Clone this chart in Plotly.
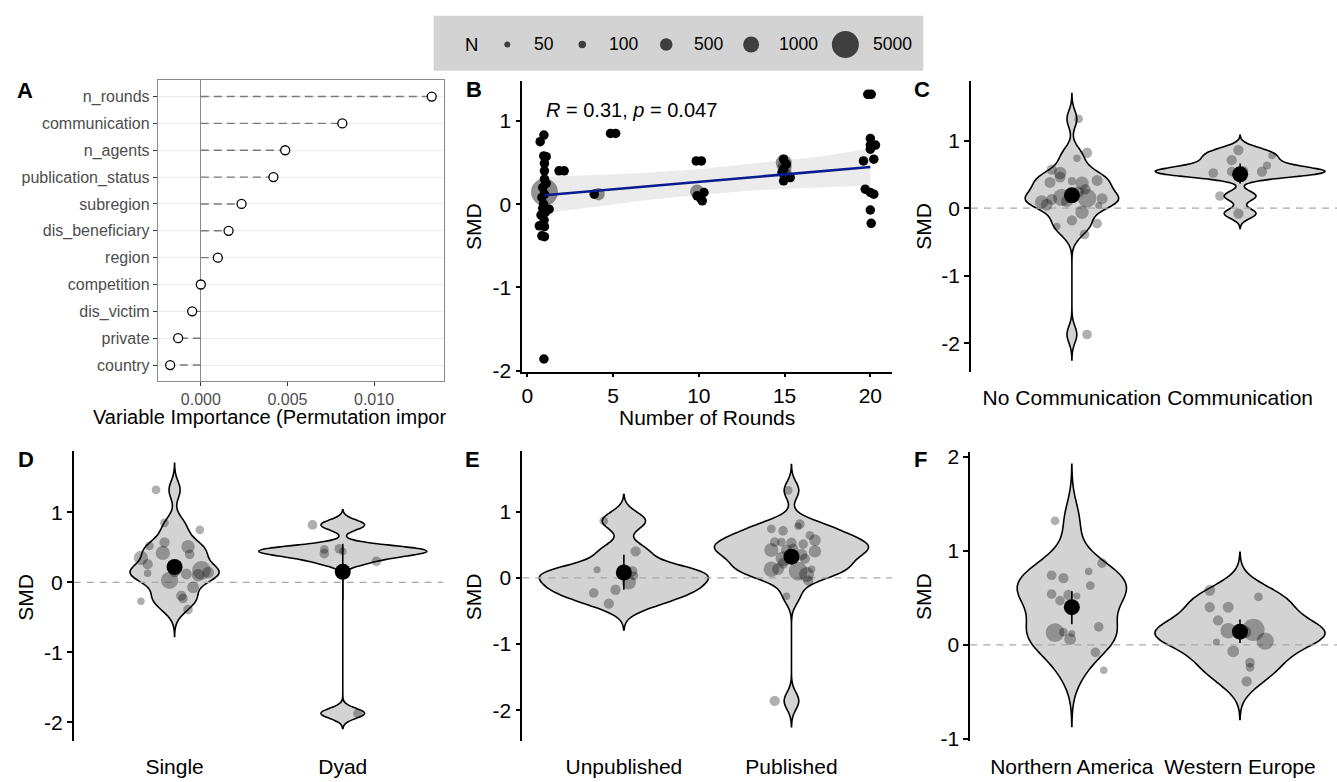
import numpy as np
import plotly.graph_objects as go

W, H = 1337, 782
FONT = "Liberation Sans, Arial, sans-serif"


def fx(p):
    return p / W


def fy(p):
    return 1 - p / H


# ------------------------------------------------------------------ data
# Panel A: permutation importance
imp_vars = ["n_rounds", "communication", "n_agents", "publication_status", "subregion",
            "dis_beneficiary", "region", "competition", "dis_victim", "private", "country"]
imp_vals = [0.01333, 0.00817, 0.00487, 0.00419, 0.00235, 0.00160, 0.00098, 0.00000,
            -0.00050, -0.00131, -0.00177]

# Panel B: SMD vs number of rounds (jittered positions as drawn)
b_x = [0.97, 0.75, 0.96, 1.1, 1.0, 1.0, 1.85, 2.15, 0.9, 1.0, 0.85, 1.1, 0.95, 1.27, 0.8,
       0.98, 0.7, 1.0, 0.85, 1.0, 0.97, 1.0, 0.9, 1.05,
       3.9, 4.85, 5.15, 9.85, 10.15, 10.3, 10.1, 10.2, 9.9,
       14.94, 15.1, 14.94, 14.85, 15.33, 14.94,
       19.85, 20.05, 20.0, 20.0, 20.3, 20.0, 20.2, 19.6, 19.7, 20.0, 20.2, 20.0, 20.05]
b_y = [0.83, 0.75, 0.58, 0.57, 0.49, 0.40, 0.40, 0.40, 0.20, 0.12, 0.08, 0.25, 0.0, -0.06, -0.13,
       -0.19, -0.26, -0.27, -0.38, -0.39, -1.86, 0.30, -0.05, -0.10,
       0.12, 0.85, 0.85, 0.52, 0.52, 0.14, 0.07, 0.04, 0.10,
       0.54, 0.48, 0.42, 0.38, 0.32, 0.28,
       1.32, 1.32, 0.79, 0.71, 0.71, 0.66, 0.54, 0.52, 0.18, 0.14, 0.12, -0.07, -0.23]
b_big_x = [1.0, 4.15, 9.9, 14.95, 15.0, 15.1]
b_big_y = [0.145, 0.12, 0.15, 0.50, 0.44, 0.35]
b_big_n = [5000, 500, 700, 1000, 700, 500]
b_fit_x = [1, 20]
b_fit_y = [0.107, 0.447]
b_band_x = [1, 4, 7, 10, 13.6, 17, 20]
b_band_hi = [0.33, 0.35, 0.38, 0.42, 0.50, 0.57, 0.67]
b_band_lo = [-0.11, -0.03, 0.05, 0.11, 0.17, 0.20, 0.22]
b_stat = "<i>R</i> = 0.31, <i>p</i> = 0.047"

# size legend
legend_n = [50, 100, 500, 1000, 5000]
legend_labels = ["50", "100", "500", "1000", "5000"]

# Panel C: communication
c_cats = ["No Communication", "Communication"]
c_no_y = [1.32, 0.82, 0.74, 0.57, 0.52, 0.46, 0.40, 0.38, 0.37, 0.41, 0.28, 0.09, 0.13, 0.16,
          0.15, 0.14, 0.05, 0.04, -0.06, -0.18, -0.23, -0.27, -0.39, -1.87, 0.10, 0.24]
c_no_dx = [0.04, 0.09, 0.03, -0.12, -0.07, -0.07, 0.0, -0.13, 0.06, 0.15, 0.08, -0.18, -0.12, -0.06,
           0.09, 0.18, -0.15, 0.16, 0.06, 0.0, 0.15, -0.09, 0.075, 0.09, -0.03, 0.04]
c_no_n = [150, 250, 100, 250, 500, 300, 120, 300, 600, 300, 250, 600, 300, 1200,
          1500, 300, 400, 80, 600, 250, 200, 100, 200, 200, 400, 300]
c_co_y = [0.86, 0.78, 0.71, 0.63, 0.52, 0.54, 0.54, 0.18, -0.08, 0.50, 0.55]
c_co_dx = [-0.01, 0.19, -0.05, 0.16, -0.16, -0.05, 0.13, -0.12, -0.01, 0.0, 0.02]
c_co_n = [250, 100, 250, 120, 200, 200, 250, 200, 250, 300, 200]
c_mean = [0.19, 0.50]
c_lo = [0.10, 0.36]
c_hi = [0.29, 0.66]

# Panel D: single vs dyad
d_cats = ["Single", "Dyad"]
d_si_y = [1.32, 0.85, 0.75, 0.52, 0.57, 0.35, 0.42, 0.51, 0.40, 0.26, 0.13, 0.03, 0.12, 0.17,
          0.14, 0.10, -0.07, -0.19, -0.23, -0.27, -0.39, 0.15]
d_si_dx = [-0.11, -0.06, 0.15, -0.15, -0.06, -0.20, -0.07, 0.08, 0.09, -0.16, -0.16, -0.03, 0.07,
           0.16, 0.20, 0.14, 0.11, 0.04, 0.05, -0.20, 0.08, 0.0]
d_si_n = [150, 150, 150, 150, 250, 700, 700, 600, 200, 250, 100, 1200, 300, 1500,
          400, 500, 400, 250, 200, 100, 200, 300]
d_dy_y = [0.82, 0.47, 0.41, 0.48, 0.30, -1.87, 0.44]
d_dy_dx = [-0.18, -0.11, -0.11, -0.02, 0.20, 0.09, 0.0]
d_dy_n = [200, 150, 200, 200, 200, 200, 100]
d_mean = [0.22, 0.15]
d_lo = [0.12, -0.25]
d_hi = [0.32, 0.55]

# Panel E: publication status
e_cats = ["Unpublished", "Published"]
e_un_y = [0.86, 0.40, 0.12, 0.10, -0.07, 0.03, -0.23, -0.18, -0.39]
e_un_dx = [-0.12, 0.07, -0.16, 0.05, 0.03, 0.06, -0.18, -0.05, -0.09]
e_un_n = [150, 250, 80, 250, 700, 150, 200, 250, 250]
e_pu_y = [1.32, 0.81, 0.78, 0.74, 0.71, 0.64, 0.57, 0.54, 0.54, 0.53, 0.51, 0.42, 0.42, 0.40,
          0.29, 0.29, 0.13, 0.13, 0.22, 0.10, 0.05, 0.13, -0.04, -0.28, -1.86, 0.35, 0.44]
e_pu_dx = [-0.02, 0.05, 0.04, -0.12, -0.05, 0.11, 0.14, -0.10, -0.06, 0.0, 0.07, -0.12, -0.03, 0.14,
           0.08, -0.05, -0.12, -0.08, -0.05, 0.04, 0.09, 0.12, 0.10, -0.03, -0.10, 0.06, 0.01]
e_pu_n = [150, 200, 100, 150, 200, 150, 400, 200, 150, 250, 200, 700, 300, 500,
          250, 800, 900, 400, 300, 1500, 800, 100, 250, 100, 250, 400, 250]
e_mean = [0.08, 0.32]
e_lo = [-0.18, 0.22]
e_hi = [0.35, 0.42]

# Panel F: subregion
f_cats = ["Northern America", "Western Europe"]
f_na_y = [1.32, 0.87, 0.74, 0.71, 0.78, 0.63, 0.54, 0.47, 0.53, 0.52, 0.13, 0.135, 0.12, 0.06,
          0.19, -0.08, -0.27]
f_na_dx = [-0.10, 0.18, -0.12, -0.05, 0.10, 0.11, -0.12, -0.07, -0.02, 0.03, -0.10, -0.05, 0.0,
           -0.01, 0.16, 0.14, 0.19]
f_na_n = [150, 200, 200, 250, 100, 150, 200, 200, 250, 80, 1500, 150, 80, 400, 200, 200, 100]
f_we_y = [0.58, 0.51, 0.40, 0.40, 0.26, 0.15, 0.135, 0.16, 0.04, 0.03, -0.07, -0.19, -0.24, -0.39, 0.14]
f_we_dx = [-0.18, 0.11, -0.18, -0.07, -0.13, -0.07, 0.03, 0.08, 0.15, -0.14, -0.04, 0.06, 0.06,
           0.04, -0.01]
f_we_n = [300, 150, 250, 300, 250, 900, 500, 2500, 1200, 80, 400, 200, 150, 250, 400]
f_mean = [0.40, 0.14]
f_lo = [0.22, 0.02]
f_hi = [0.57, 0.27]

# ------------------------------------------------------------------ styles
legend_diam = [6, 7.5, 12.5, 16, 27]


def size_of(n):
    return list(np.interp(np.log(np.asarray(n, float)), np.log(legend_n), legend_diam))


fig = go.Figure()

# ---------------- Panel A
nA = len(imp_vars)
a_pos = [nA - 1 - i for i in range(nA)]
seg_x, seg_y = [], []
for v, p in zip(imp_vals, a_pos):
    seg_x += [0, v, None]
    seg_y += [p, p, None]
fig.add_trace(go.Scatter(x=seg_x, y=seg_y, mode="lines", xaxis="x", yaxis="y",
                         line=dict(color="#7a7a7a", width=1.4, dash="8px,5px"),
                         showlegend=False, hoverinfo="skip"))
fig.add_trace(go.Scatter(x=imp_vals, y=a_pos, mode="markers", xaxis="x", yaxis="y",
                         marker=dict(size=9, color="white", line=dict(color="black", width=1.3)),
                         showlegend=False))

# ---------------- Panel B
fig.add_trace(go.Scatter(x=b_band_x + b_band_x[::-1], y=b_band_hi + b_band_lo[::-1],
                         fill="toself", fillcolor="rgba(0,0,0,0.08)", line=dict(width=0),
                         mode="lines", xaxis="x2", yaxis="y2", showlegend=False, hoverinfo="skip"))
fig.add_trace(go.Scatter(x=b_big_x, y=b_big_y, mode="markers", xaxis="x2", yaxis="y2",
                         marker=dict(size=size_of(b_big_n), color="rgba(0,0,0,0.6)", line=dict(width=0)),
                         showlegend=False))
fig.add_trace(go.Scatter(x=b_x, y=b_y, mode="markers", xaxis="x2", yaxis="y2",
                         marker=dict(size=9.5, color="black", line=dict(width=0)), showlegend=False))
fig.add_trace(go.Scatter(x=b_fit_x, y=b_fit_y, mode="lines", xaxis="x2", yaxis="y2",
                         line=dict(color="#0a1a8f", width=2.6), showlegend=False))


# ---------------- Violin panels
def violin_panel(k, groups, means, lo, hi, bws, widths, xr):
    xa, ya = "x%d" % k, "y%d" % k
    for i, (ys, dxs, ns) in enumerate(groups):
        pos = i + 1
        bw = bws[i]
        fig.add_trace(go.Violin(x=[pos] * len(ys), y=ys, xaxis=xa, yaxis=ya,
                                width=widths[i], bandwidth=bw, spanmode="manual",
                                span=[min(ys) - 3 * bw, max(ys) + 3 * bw],
                                scalemode="width", fillcolor="#d3d3d3",
                                line=dict(color="black", width=1.6), points=False,
                                box_visible=False, meanline_visible=False,
                                showlegend=False, hoverinfo="skip", opacity=1))
    fig.add_trace(go.Scatter(x=xr, y=[0, 0], mode="lines", xaxis=xa, yaxis=ya,
                             line=dict(color="#a8a8a8", width=1.3, dash="7px,6px"),
                             showlegend=False, hoverinfo="skip"))
    for i, (ys, dxs, ns) in enumerate(groups):
        pos = i + 1
        fig.add_trace(go.Scatter(x=[pos + d for d in dxs], y=ys, mode="markers", xaxis=xa, yaxis=ya,
                                 marker=dict(size=size_of(ns), color="rgba(0,0,0,0.45)",
                                             line=dict(width=0)), showlegend=False))
    fig.add_trace(go.Scatter(x=[1, 2], y=means, mode="markers", xaxis=xa, yaxis=ya,
                             marker=dict(size=16, color="black"),
                             error_y=dict(type="data", symmetric=False,
                                          array=[h - m for h, m in zip(hi, means)],
                                          arrayminus=[m - l for m, l in zip(means, lo)],
                                          thickness=1.6, width=0, color="black"),
                             showlegend=False))


xr_C = [0.4, 2.576]
xr_D = [0.4, 2.598]
xr_E = [0.394, 2.60]
xr_F = [0.396, 2.577]
violin_panel(3, [(c_no_y, c_no_dx, c_no_n), (c_co_y, c_co_dx, c_co_n)], c_mean, c_lo, c_hi,
             [0.125, 0.073], [0.555, 1.01], xr_C)
violin_panel(4, [(d_si_y, d_si_dx, d_si_n), (d_dy_y, d_dy_dx, d_dy_n)], d_mean, d_lo, d_hi,
             [0.127, 0.072], [0.53, 1.0], xr_D)
violin_panel(5, [(e_un_y, e_un_dx, e_un_n), (e_pu_y, e_pu_dx, e_pu_n)], e_mean, e_lo, e_hi,
             [0.133, 0.13], [1.01, 0.92], xr_E)
violin_panel(6, [(f_na_y, f_na_dx, f_na_n), (f_we_y, f_we_dx, f_we_n)], f_mean, f_lo, f_hi,
             [0.2, 0.135], [0.65, 1.01], xr_F)

# ---------------- size legend
leg_dot_x = [506.7, 581.7, 665.7, 750.7, 845.0]
leg_lab_x = [543.0, 623.0, 707.7, 797.7, 891.7]
fig.add_trace(go.Scatter(x=leg_dot_x, y=[39.3] * len(legend_n), mode="markers", xaxis="x7", yaxis="y7",
                         marker=dict(size=size_of(legend_n), color="black", line=dict(width=0)),
                         showlegend=False))

# ------------------------------------------------------------------ layout
tick_black = dict(size=21, color="black", family=FONT)


def yax(top, bot, rng, vals, anchor):
    return dict(domain=[fy(bot), fy(top)], range=rng, tickvals=vals,
                ticktext=[str(v) for v in vals], showline=True, linecolor="black", linewidth=1.6,
                ticks="outside", ticklen=5, tickwidth=1.6, tickcolor="black", tickfont=tick_black,
                showgrid=False, zeroline=False, anchor=anchor, type="linear")


def xcat(left, right, rng, cats, anchor):
    return dict(domain=[fx(left), fx(right)], range=rng, tickvals=[1, 2], ticktext=cats,
                showline=False, ticks="outside", ticklen=7, tickcolor="rgba(0,0,0,0)",
                tickfont=tick_black, tickangle=0, showgrid=False, zeroline=False,
                anchor=anchor, type="linear")


layout = dict(
    width=W, height=H, autosize=False, margin=dict(l=0, r=0, t=0, b=0),
    paper_bgcolor="white", plot_bgcolor="rgba(0,0,0,0)", showlegend=False,
    font=dict(family=FONT, color="black"), violinmode="overlay",
    xaxis=dict(domain=[fx(157), fx(443)], range=[-0.00248, 0.01402],
               tickvals=[0, 0.005, 0.01], ticktext=["0.000", "0.005", "0.010"],
               showline=True, mirror=True, linecolor="#8a8a8a", linewidth=1.2,
               ticks="outside", ticklen=4, tickcolor="#333333",
               tickfont=dict(size=16, color="#4d4d4d", family=FONT),
               showgrid=False, zeroline=True, zerolinecolor="#8a8a8a", zerolinewidth=1.3,
               anchor="y"),
    yaxis=dict(domain=[fy(383), fy(76)], range=[-0.6, 10.6], tickvals=a_pos, ticktext=imp_vars,
               showline=True, mirror=True, linecolor="#8a8a8a", linewidth=1.2,
               ticks="outside", ticklen=4, tickcolor="#333333",
               tickfont=dict(size=16, color="#4d4d4d", family=FONT),
               showgrid=True, gridcolor="#ebebeb", gridwidth=1, zeroline=False, anchor="x"),
    xaxis2=dict(domain=[fx(521.7), fx(891.7)], range=[-0.291, 21.264], tickvals=[0, 5, 10, 15, 20],
                showline=True, linecolor="black", linewidth=1.6, ticks="outside", ticklen=4,
                tickwidth=1.6, tickcolor="black", tickfont=tick_black, showgrid=False,
                zeroline=False, anchor="y2"),
    yaxis2=yax(76.7, 373.3, [-2.012, 1.478], [-2, -1, 0, 1], "x2"),
    xaxis3=xcat(970.7, 1337, xr_C, c_cats, "y3"),
    yaxis3=yax(76.7, 373.3, [-2.42, 1.88], [-2, -1, 0, 1], "x3"),
    xaxis4=xcat(72.7, 442.7, xr_D, d_cats, "y4"),
    yaxis4=yax(454, 750, [-2.26, 1.88], [-2, -1, 0, 1], "x4"),
    xaxis5=xcat(521.7, 891.7, xr_E, e_cats, "y5"),
    yaxis5=yax(454, 750, [-2.46, 1.92], [-2, -1, 0, 1], "x5"),
    xaxis6=xcat(970, 1337, xr_F, f_cats, "y6"),
    yaxis6=yax(455, 750, [-1.02, 2.055], [-1, 0, 1, 2], "x6"),
    xaxis7=dict(domain=[fx(433), fx(923)], range=[433, 923], visible=False, anchor="y7"),
    yaxis7=dict(domain=[fy(66), fy(10)], range=[66, 10], visible=False, anchor="x7"),
)
fig.update_layout(**layout)

# legend background
fig.add_shape(type="rect", xref="paper", yref="paper", x0=fx(433), x1=fx(923), y0=fy(66), y1=fy(10),
              fillcolor="#d3d3d3", line=dict(width=0), layer="below")

ann = []


def txt(x, y, t, size=21, bold=False, angle=0, xanchor="center", color="black"):
    ann.append(dict(x=fx(x), y=fy(y), xref="paper", yref="paper", text=("<b>%s</b>" % t) if bold else t,
                    showarrow=False, xanchor=xanchor, yanchor="middle", textangle=angle,
                    font=dict(size=size, color=color, family=FONT)))


for letter, x, y in [("A", 24, 86), ("B", 473, 85.5), ("C", 922, 85), ("D", 24.6, 463),
                     ("E", 472, 463), ("F", 920, 463)]:
    txt(x, y, letter, size=22, bold=True)
for x, y in [(473, 225), (923, 225), (25, 603), (473, 603), (923, 603)]:
    txt(x, y, "SMD", angle=-90)
txt(706.7, 420, "Number of Rounds")
txt(90, 420, "Variable Importance (Permutation impor", size=20, xanchor="left")
txt(543.3, 106, b_stat, size=20, xanchor="left")
txt(470.7, 39.3, "N", size=18.5)
for x, lab in zip(leg_lab_x, legend_labels):
    txt(x, 39.3, lab, size=17.5)

fig.update_layout(annotations=ann)
fig.write_html("out.html")
